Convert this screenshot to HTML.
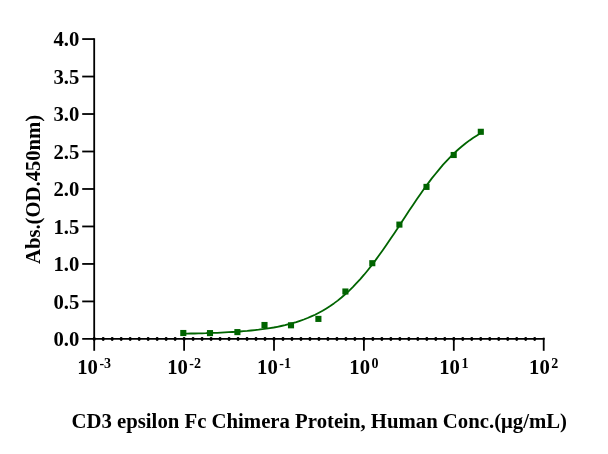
<!DOCTYPE html>
<html><head><meta charset="utf-8"><style>
html,body{margin:0;padding:0;background:#fff;}
svg{display:block;will-change:transform;}
</style></head><body>
<svg width="608" height="454" viewBox="0 0 608 454">
<rect width="608" height="454" fill="#fff"/>
<g stroke="#000" stroke-width="1.8" fill="none" stroke-linecap="butt">
<line x1="94.2" y1="38.16" x2="94.2" y2="339.80"/>
<line x1="82.2" y1="338.9" x2="544.60" y2="338.9"/>
<line x1="82.2" y1="39.06" x2="94.2" y2="39.06"/>
<line x1="82.2" y1="76.54" x2="94.2" y2="76.54"/>
<line x1="82.2" y1="114.02" x2="94.2" y2="114.02"/>
<line x1="82.2" y1="151.50" x2="94.2" y2="151.50"/>
<line x1="82.2" y1="188.98" x2="94.2" y2="188.98"/>
<line x1="82.2" y1="226.46" x2="94.2" y2="226.46"/>
<line x1="82.2" y1="263.94" x2="94.2" y2="263.94"/>
<line x1="82.2" y1="301.42" x2="94.2" y2="301.42"/>
<line x1="94.20" y1="337.70" x2="94.20" y2="350.8"/>
<line x1="184.10" y1="337.70" x2="184.10" y2="350.8"/>
<line x1="274.00" y1="337.70" x2="274.00" y2="350.8"/>
<line x1="363.90" y1="337.70" x2="363.90" y2="350.8"/>
<line x1="453.80" y1="337.70" x2="453.80" y2="350.8"/>
<line x1="543.70" y1="337.70" x2="543.70" y2="350.8"/>
</g>
<g stroke="#000" stroke-width="2.8" fill="none" stroke-linecap="round">
<line x1="94.20" y1="338.30" x2="94.20" y2="339.50"/>
<line x1="103.19" y1="338.30" x2="103.19" y2="339.50"/>
<line x1="112.18" y1="338.30" x2="112.18" y2="339.50"/>
<line x1="121.17" y1="338.30" x2="121.17" y2="339.50"/>
<line x1="130.16" y1="338.30" x2="130.16" y2="339.50"/>
<line x1="139.15" y1="338.30" x2="139.15" y2="339.50"/>
<line x1="148.14" y1="338.30" x2="148.14" y2="339.50"/>
<line x1="157.13" y1="338.30" x2="157.13" y2="339.50"/>
<line x1="166.12" y1="338.30" x2="166.12" y2="339.50"/>
<line x1="175.11" y1="338.30" x2="175.11" y2="339.50"/>
<line x1="184.10" y1="338.30" x2="184.10" y2="339.50"/>
<line x1="193.09" y1="338.30" x2="193.09" y2="339.50"/>
<line x1="202.08" y1="338.30" x2="202.08" y2="339.50"/>
<line x1="211.07" y1="338.30" x2="211.07" y2="339.50"/>
<line x1="220.06" y1="338.30" x2="220.06" y2="339.50"/>
<line x1="229.05" y1="338.30" x2="229.05" y2="339.50"/>
<line x1="238.04" y1="338.30" x2="238.04" y2="339.50"/>
<line x1="247.03" y1="338.30" x2="247.03" y2="339.50"/>
<line x1="256.02" y1="338.30" x2="256.02" y2="339.50"/>
<line x1="265.01" y1="338.30" x2="265.01" y2="339.50"/>
<line x1="274.00" y1="338.30" x2="274.00" y2="339.50"/>
<line x1="282.99" y1="338.30" x2="282.99" y2="339.50"/>
<line x1="291.98" y1="338.30" x2="291.98" y2="339.50"/>
<line x1="300.97" y1="338.30" x2="300.97" y2="339.50"/>
<line x1="309.96" y1="338.30" x2="309.96" y2="339.50"/>
<line x1="318.95" y1="338.30" x2="318.95" y2="339.50"/>
<line x1="327.94" y1="338.30" x2="327.94" y2="339.50"/>
<line x1="336.93" y1="338.30" x2="336.93" y2="339.50"/>
<line x1="345.92" y1="338.30" x2="345.92" y2="339.50"/>
<line x1="354.91" y1="338.30" x2="354.91" y2="339.50"/>
<line x1="363.90" y1="338.30" x2="363.90" y2="339.50"/>
<line x1="372.89" y1="338.30" x2="372.89" y2="339.50"/>
<line x1="381.88" y1="338.30" x2="381.88" y2="339.50"/>
<line x1="390.87" y1="338.30" x2="390.87" y2="339.50"/>
<line x1="399.86" y1="338.30" x2="399.86" y2="339.50"/>
<line x1="408.85" y1="338.30" x2="408.85" y2="339.50"/>
<line x1="417.84" y1="338.30" x2="417.84" y2="339.50"/>
<line x1="426.83" y1="338.30" x2="426.83" y2="339.50"/>
<line x1="435.82" y1="338.30" x2="435.82" y2="339.50"/>
<line x1="444.81" y1="338.30" x2="444.81" y2="339.50"/>
<line x1="453.80" y1="338.30" x2="453.80" y2="339.50"/>
<line x1="462.79" y1="338.30" x2="462.79" y2="339.50"/>
<line x1="471.78" y1="338.30" x2="471.78" y2="339.50"/>
<line x1="480.77" y1="338.30" x2="480.77" y2="339.50"/>
<line x1="489.76" y1="338.30" x2="489.76" y2="339.50"/>
<line x1="498.75" y1="338.30" x2="498.75" y2="339.50"/>
<line x1="507.74" y1="338.30" x2="507.74" y2="339.50"/>
<line x1="516.73" y1="338.30" x2="516.73" y2="339.50"/>
<line x1="525.72" y1="338.30" x2="525.72" y2="339.50"/>
<line x1="534.71" y1="338.30" x2="534.71" y2="339.50"/>
</g>
<g font-family="'Liberation Serif', serif" font-weight="bold" font-size="20.67" fill="#000">
<text x="79.3" y="46.46" text-anchor="end">4.0</text>
<text x="79.3" y="83.94" text-anchor="end">3.5</text>
<text x="79.3" y="121.42" text-anchor="end">3.0</text>
<text x="79.3" y="158.90" text-anchor="end">2.5</text>
<text x="79.3" y="196.38" text-anchor="end">2.0</text>
<text x="79.3" y="233.86" text-anchor="end">1.5</text>
<text x="79.3" y="271.34" text-anchor="end">1.0</text>
<text x="79.3" y="308.82" text-anchor="end">0.5</text>
<text x="79.3" y="346.30" text-anchor="end">0.0</text>
<text x="77.28" y="374.0">10</text>
<text x="99.45" y="367.9" font-size="14.0">-3</text>
<text x="167.18" y="374.0">10</text>
<text x="189.35" y="367.9" font-size="14.0">-2</text>
<text x="257.08" y="374.0">10</text>
<text x="279.25" y="367.9" font-size="14.0">-1</text>
<text x="349.32" y="374.0">10</text>
<text x="371.49" y="367.9" font-size="14.0">0</text>
<text x="439.22" y="374.0">10</text>
<text x="461.39" y="367.9" font-size="14.0">1</text>
<text x="529.12" y="374.0">10</text>
<text x="551.28" y="367.9" font-size="14.0">2</text>
<text x="71.5" y="428.3" font-size="20.75">CD3 epsilon Fc Chimera Protein, Human Conc.(μg/mL)</text>
<text transform="translate(40 264.0) rotate(-90)">Abs.(OD.450nm)</text>
</g>
<polyline points="183.3,333.7 187.1,333.6 190.8,333.5 194.6,333.5 198.4,333.4 202.1,333.3 205.9,333.2 209.7,333.0 213.4,332.9 217.2,332.8 221.0,332.6 224.7,332.4 228.5,332.2 232.3,332.0 236.0,331.8 239.8,331.5 243.6,331.2 247.3,330.9 251.1,330.5 254.9,330.1 258.6,329.7 262.4,329.2 266.1,328.7 269.9,328.1 273.7,327.5 277.4,326.8 281.2,326.0 285.0,325.2 288.7,324.2 292.5,323.2 296.3,322.1 300.0,320.8 303.8,319.5 307.6,318.0 311.3,316.4 315.1,314.7 318.9,312.7 322.6,310.7 326.4,308.4 330.2,306.0 333.9,303.4 337.7,300.6 341.5,297.5 345.2,294.3 349.0,290.8 352.8,287.1 356.5,283.2 360.3,279.1 364.1,274.7 367.8,270.2 371.6,265.4 375.4,260.4 379.1,255.3 382.9,250.0 386.7,244.5 390.4,239.0 394.2,233.4 398.0,227.7 401.7,221.9 405.5,216.2 409.2,210.5 413.0,204.9 416.8,199.3 420.5,193.9 424.3,188.6 428.1,183.4 431.8,178.4 435.6,173.7 439.4,169.1 443.1,164.7 446.9,160.6 450.7,156.7 454.4,153.0 458.2,149.5 462.0,146.3 465.7,143.3 469.5,140.4 473.3,137.8 477.0,135.4 480.8,133.1" fill="none" stroke="#006400" stroke-width="1.8" stroke-linejoin="round"/>
<rect x="180.25" y="329.95" width="6.1" height="6.1" fill="#006400"/>
<rect x="206.95" y="330.05" width="6.1" height="6.1" fill="#006400"/>
<rect x="234.35" y="329.05" width="6.1" height="6.1" fill="#006400"/>
<rect x="261.45" y="321.95" width="6.1" height="6.1" fill="#006400"/>
<rect x="287.95" y="322.25" width="6.1" height="6.1" fill="#006400"/>
<rect x="315.35" y="315.85" width="6.1" height="6.1" fill="#006400"/>
<rect x="342.35" y="288.45" width="6.1" height="6.1" fill="#006400"/>
<rect x="369.25" y="260.15" width="6.1" height="6.1" fill="#006400"/>
<rect x="396.35" y="221.55" width="6.1" height="6.1" fill="#006400"/>
<rect x="423.45" y="183.85" width="6.1" height="6.1" fill="#006400"/>
<rect x="450.65" y="151.95" width="6.1" height="6.1" fill="#006400"/>
<rect x="477.75" y="128.75" width="6.1" height="6.1" fill="#006400"/>
</svg>
</body></html>
